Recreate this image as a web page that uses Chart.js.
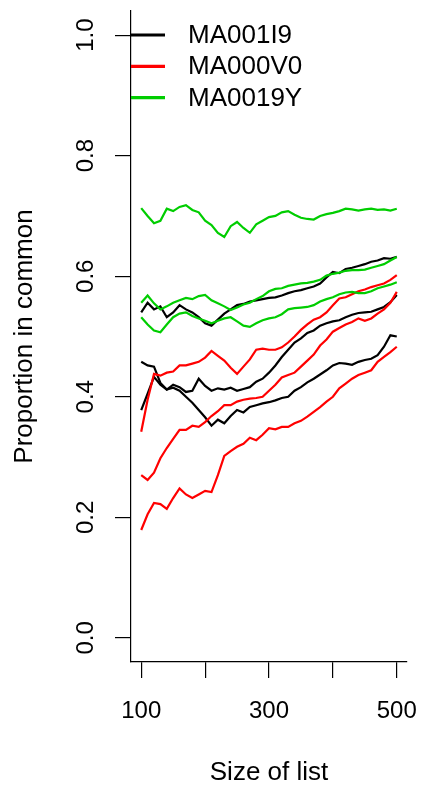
<!DOCTYPE html>
<html>
<head>
<meta charset="utf-8">
<script src="https://cdn.jsdelivr.net/npm/chart.js@4.4.1/dist/chart.umd.min.js"></script>
<style>
  html, body { margin: 0; padding: 0; background: #ffffff; }
  #wrap { width: 424px; height: 791px; }
</style>
</head>
<body>
<div id="wrap"><canvas id="c" width="424" height="791"></canvas></div>
<script>
// ---- data ----
const sizes = [100,110,120,130,140,150,160,170,180,190,200,210,220,230,240,250,260,270,280,290,300,
               310,320,330,340,350,360,370,380,390,400,410,420,430,440,450,460,470,480,490,500];

const seriesNames = ['MA001I9', 'MA000V0', 'MA0019Y'];

// MA001I9 (black)
const ma001i9_a = [0.540,0.556,0.545,0.550,0.532,0.540,0.552,0.545,0.540,0.532,0.522,0.518,0.528,0.538,0.545,0.552,0.554,0.558,0.560,0.562,0.564,
                   0.565,0.568,0.572,0.575,0.577,0.580,0.583,0.588,0.598,0.607,0.605,0.612,0.614,0.617,0.620,0.624,0.626,0.630,0.629,0.632];
const ma001i9_b = [0.458,0.452,0.450,0.423,0.412,0.415,0.410,0.400,0.390,0.378,0.366,0.352,0.362,0.356,0.368,0.378,0.374,0.383,0.386,0.389,0.391,
                   0.394,0.398,0.400,0.410,0.416,0.424,0.430,0.437,0.444,0.452,0.456,0.455,0.453,0.458,0.461,0.463,0.469,0.483,0.502,0.500];
const ma001i9_c = [0.378,0.405,0.433,0.420,0.412,0.420,0.416,0.408,0.410,0.430,0.418,0.410,0.414,0.412,0.415,0.410,0.413,0.416,0.425,0.430,0.440,
                   0.452,0.466,0.478,0.490,0.497,0.506,0.510,0.518,0.522,0.525,0.527,0.532,0.536,0.539,0.540,0.541,0.545,0.549,0.557,0.569];

// MA000V0 (red)
const ma000v0_a = [0.342,0.395,0.438,0.435,0.440,0.442,0.452,0.452,0.455,0.458,0.465,0.476,0.468,0.460,0.448,0.438,0.450,0.462,0.478,0.480,0.478,
                   0.478,0.482,0.490,0.500,0.511,0.520,0.528,0.532,0.540,0.552,0.563,0.565,0.570,0.575,0.578,0.582,0.585,0.588,0.594,0.602];
const ma000v0_b = [0.270,0.262,0.274,0.298,0.315,0.330,0.345,0.345,0.352,0.350,0.358,0.368,0.376,0.386,0.386,0.392,0.395,0.397,0.398,0.400,0.410,
                   0.420,0.432,0.436,0.440,0.450,0.460,0.470,0.485,0.495,0.508,0.514,0.520,0.524,0.530,0.526,0.530,0.538,0.545,0.556,0.574];
const ma000v0_c = [0.179,0.205,0.224,0.222,0.214,0.232,0.248,0.238,0.232,0.238,0.244,0.242,0.270,0.302,0.310,0.317,0.322,0.332,0.328,0.337,0.348,
                   0.346,0.350,0.350,0.356,0.360,0.367,0.375,0.383,0.392,0.400,0.414,0.422,0.430,0.436,0.440,0.444,0.458,0.466,0.474,0.483];

// MA0019Y (green)
const ma0019y_a = [0.713,0.700,0.688,0.692,0.712,0.708,0.715,0.718,0.710,0.706,0.692,0.685,0.672,0.665,0.683,0.690,0.680,0.672,0.686,0.692,0.698,
                   0.700,0.706,0.708,0.702,0.697,0.695,0.694,0.700,0.703,0.705,0.708,0.712,0.711,0.709,0.711,0.712,0.710,0.711,0.709,0.712];
const ma0019y_b = [0.556,0.568,0.555,0.545,0.550,0.556,0.560,0.564,0.562,0.567,0.569,0.560,0.555,0.550,0.544,0.548,0.553,0.556,0.562,0.567,0.575,
                   0.579,0.580,0.584,0.586,0.588,0.589,0.591,0.594,0.601,0.604,0.606,0.609,0.610,0.610,0.611,0.614,0.617,0.620,0.626,0.632];
const ma0019y_c = [0.532,0.520,0.510,0.507,0.520,0.532,0.538,0.540,0.534,0.530,0.526,0.522,0.526,0.530,0.532,0.525,0.518,0.516,0.522,0.527,0.530,
                   0.532,0.537,0.545,0.547,0.548,0.549,0.552,0.558,0.562,0.565,0.570,0.573,0.574,0.572,0.572,0.575,0.580,0.583,0.586,0.590];

// ticks
const xTicks = [100, 200, 300, 400, 500];
const xTickLabels = ['100', '', '300', '', '500'];
const yTicks = [0.0, 0.2, 0.4, 0.6, 0.8, 1.0];
const yTickLabels = ['0.0', '0.2', '0.4', '0.6', '0.8', '1.0'];

// ---- styling ----
const seriesColors = ['#000000', '#FF0000', '#00CD00'];
const FONT = '"Liberation Sans", Arial, Helvetica, sans-serif';

function pts(vals) { return sizes.map((s, i) => ({ x: s, y: vals[i] })); }

const groups = [
  { name: seriesNames[0], color: seriesColors[0], order: 3, lines: [ma001i9_a, ma001i9_b, ma001i9_c] },
  { name: seriesNames[1], color: seriesColors[1], order: 2, lines: [ma000v0_a, ma000v0_b, ma000v0_c] },
  { name: seriesNames[2], color: seriesColors[2], order: 1, lines: [ma0019y_a, ma0019y_b, ma0019y_c] }
];

const datasets = [];
groups.forEach(g => {
  g.lines.forEach(v => {
    datasets.push({
      label: g.name,
      data: pts(v),
      borderColor: g.color,
      backgroundColor: g.color,
      borderWidth: 2.2,
      pointRadius: 0,
      tension: 0,
      fill: false,
      order: g.order
    });
  });
});

const rPlugin = {
  id: 'rstyle',
  afterDraw(chart) {
    const ctx = chart.ctx;
    const area = chart.chartArea;
    const ys = chart.scales.y;
    // rotated y tick labels
    ctx.save();
    ctx.fillStyle = '#000';
    ctx.font = '24px ' + FONT;
    ctx.textAlign = 'center';
    ctx.textBaseline = 'middle';
    yTicks.forEach((v, i) => {
      const py = ys.getPixelForValue(v);
      ctx.save();
      ctx.translate(area.left - 44.5, py);
      ctx.rotate(-Math.PI / 2);
      ctx.fillText(yTickLabels[i], 0, 0);
      ctx.restore();
    });
    ctx.restore();
    // legend (top-left, inside plot)
    ctx.save();
    ctx.font = '26px ' + FONT;
    ctx.textAlign = 'left';
    ctx.textBaseline = 'middle';
    groups.forEach((g, i) => {
      const y = area.top + 24 + i * 31.3;
      ctx.strokeStyle = g.color;
      ctx.lineWidth = 3.2;
      ctx.lineCap = 'butt';
      ctx.beginPath();
      ctx.moveTo(area.left, y);
      ctx.lineTo(area.left + 34, y);
      ctx.stroke();
      ctx.fillStyle = '#000';
      ctx.fillText(g.name, area.left + 57, y + 1);
    });
    ctx.restore();
  }
};

new Chart(document.getElementById('c'), {
  type: 'line',
  data: { datasets },
  options: {
    responsive: false,
    animation: false,
    devicePixelRatio: 1,
    layout: { padding: { left: 0, top: 11, right: 17, bottom: 0 } },
    plugins: { legend: { display: false }, tooltip: { enabled: false }, title: { display: false } },
    scales: {
      x: {
        type: 'linear',
        min: 84, max: 516,
        afterBuildTicks: s => { s.ticks = xTicks.map(v => ({ value: v })); },
        afterFit: s => { s.height = 129; s.paddingLeft = 0; s.paddingRight = 0; },
        ticks: {
          autoSkip: false, maxRotation: 0, minRotation: 0,
          color: '#000', padding: 18.6,
          font: { family: FONT, size: 24 },
          callback: (v, i) => xTickLabels[i]
        },
        grid: { drawOnChartArea: false, tickLength: 16, color: '#000', lineWidth: 1.2 },
        border: { display: true, color: '#000', width: 1.2 },
        title: { display: true, text: 'Size of list', color: '#000', font: { family: FONT, size: 26 }, padding: { top: 0, bottom: 2.4 } }
      },
      y: {
        type: 'linear',
        min: -0.04, max: 1.04,
        afterBuildTicks: s => { s.ticks = yTicks.map(v => ({ value: v })); },
        afterFit: s => { s.width = 131; s.paddingTop = 0; s.paddingBottom = 0; },
        ticks: { display: false },
        grid: { drawOnChartArea: false, tickLength: 16, color: '#000', lineWidth: 1.2 },
        border: { display: true, color: '#000', width: 1.2 },
        title: { display: true, text: 'Proportion in common', color: '#000', font: { family: FONT, size: 26 }, padding: { top: 9.5, bottom: 0 } }
      }
    }
  },
  plugins: [rPlugin]
});
</script>
</body>
</html>
